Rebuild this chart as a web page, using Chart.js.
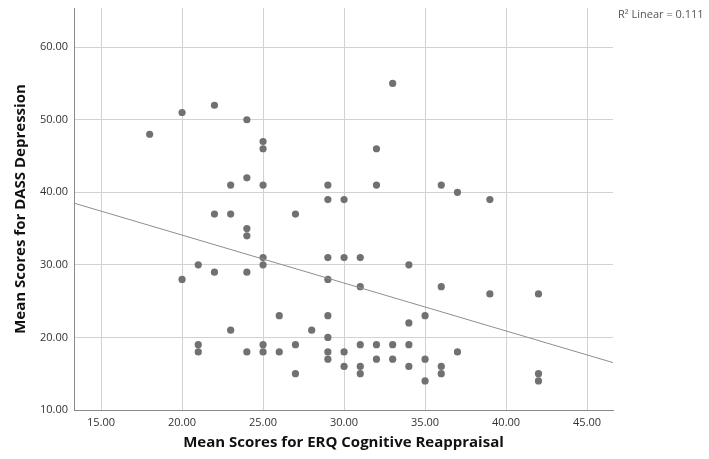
<!DOCTYPE html>
<html>
<head>
<meta charset="utf-8">
<script src="https://cdn.jsdelivr.net/npm/chart.js@4.4.1/dist/chart.umd.min.js"></script>
<style>
  html, body { margin: 0; padding: 0; background: #fff; }
  #wrap { width: 709px; height: 459px; }
</style>
</head>
<body>
<div id="wrap"><canvas id="chart"></canvas></div>
<script>
// ERQ reappraisal (x) vs DASS depression (y), one entry per participant
const erqScores = [18, 20, 22, 24, 25, 25, 23, 24, 25, 29, 29, 30, 22, 23, 27, 24, 24, 33, 32, 32,
    36, 37, 39, 20, 21, 22, 24, 25, 25, 29, 30, 31, 29, 31, 34, 36, 39, 42, 26, 29,
    35, 28, 23, 29, 34, 21, 21, 24, 25, 25, 26, 27, 27, 29, 29, 30, 30, 31, 31, 31,
    32, 32, 33, 33, 34, 34, 35, 35, 36, 36, 37, 42, 42];
const dassScores = [48, 51, 52, 50, 47, 46, 41, 42, 41, 41, 39, 39, 37, 37, 37, 35, 34, 55, 46, 41,
    41, 40, 39, 28, 30, 29, 29, 31, 30, 31, 31, 31, 28, 27, 30, 27, 26, 26, 23, 23,
    23, 21, 21, 20, 22, 19, 18, 18, 19, 18, 18, 19, 15, 18, 17, 18, 16, 19, 16, 15,
    19, 17, 19, 17, 19, 16, 17, 14, 16, 15, 18, 15, 14];
const xTicks = [15, 20, 25, 30, 35, 40, 45];
const yTicks = [10, 20, 30, 40, 50, 60];
const xRange = [13.33, 46.6];
const yRange = [10, 65.4];
const r2Label = 'R\u00b2 Linear = 0.111';

const points = erqScores.map((x, i) => ({ x: x, y: dassScores[i] }));

// least squares fit for the reference line
function linearFit(xs, ys) {
    const n = xs.length;
    const mx = xs.reduce((a, b) => a + b, 0) / n;
    const my = ys.reduce((a, b) => a + b, 0) / n;
    let sxy = 0, sxx = 0;
    for (let i = 0; i < n; i++) {
        sxy += (xs[i] - mx) * (ys[i] - my);
        sxx += (xs[i] - mx) * (xs[i] - mx);
    }
    const slope = sxy / sxx;
    return { slope: slope, intercept: my - slope * mx };
}
const fit = linearFit(erqScores, dassScores);
const fitLine = xRange.map(x => ({ x: x, y: fit.intercept + fit.slope * x }));

const fontFamily = '"Open Sans", "DejaVu Sans", sans-serif';

const r2Plugin = {
    id: 'r2Text',
    afterDraw(chart) {
        const ctx = chart.ctx;
        ctx.save();
        ctx.font = '11px ' + fontFamily;
        ctx.fillStyle = '#555';
        ctx.textBaseline = 'alphabetic';
        ctx.fillText(r2Label, chart.chartArea.right + 5, 18);
        ctx.restore();
    }
};

const ctx = document.getElementById('chart').getContext('2d');
const myChart = new Chart(ctx, {
    type: 'scatter',
    data: {
        datasets: [{
            label: 'Fit',
            type: 'line',
            data: fitLine,
            borderColor: '#8e8e8e',
            borderWidth: 1,
            pointRadius: 0,
            fill: false
        }, {
            label: 'Participants',
            data: points,
            backgroundColor: '#717171',
            borderColor: '#717171',
            borderWidth: 0,
            pointRadius: 3.6
        }]
    },
    options: {
        responsive: true,
        maintainAspectRatio: false,
        animation: false,
        events: [],
        layout: { padding: { top: 8, right: 96, left: 0, bottom: 0 } },
        plugins: {
            legend: { display: false },
            tooltip: { enabled: false }
        },
        scales: {
            x: {
                type: 'linear',
                min: xRange[0],
                max: xRange[1],
                afterBuildTicks: axis => { axis.ticks = xTicks.map(v => ({ value: v })); },
                afterFit: axis => {
                    axis.height = 49;
                    axis.paddingLeft = 0;
                    axis.paddingRight = 0;
                },
                grid: { color: '#d2d2d2', lineWidth: 1, drawTicks: false },
                border: { color: '#8a8a8a', width: 1 },
                ticks: {
                    padding: 6,
                    color: '#333',
                    font: { family: fontFamily, size: 11 },
                    callback: v => v.toFixed(2)
                },
                title: {
                    display: true,
                    text: 'Mean Scores for ERQ Cognitive Reappraisal',
                    color: '#111',
                    font: { family: fontFamily, size: 15, weight: 'bold' },
                    padding: { top: 0, bottom: 7 }
                }
            },
            y: {
                type: 'linear',
                min: yRange[0],
                max: yRange[1],
                afterBuildTicks: axis => { axis.ticks = yTicks.map(v => ({ value: v })); },
                afterFit: axis => {
                    axis.width = 74;
                    axis.paddingTop = 0;
                    axis.paddingBottom = 0;
                },
                grid: { color: '#d2d2d2', lineWidth: 1, drawTicks: false },
                border: { color: '#8a8a8a', width: 1 },
                ticks: {
                    padding: 6,
                    color: '#333',
                    font: { family: fontFamily, size: 11 },
                    callback: v => v.toFixed(2)
                },
                title: {
                    display: true,
                    text: 'Mean Scores for DASS Depression',
                    color: '#111',
                    font: { family: fontFamily, size: 15, weight: 'bold' },
                    padding: { top: 12, bottom: 0 }
                }
            }
        }
    },
    plugins: [r2Plugin]
});
</script>
</body>
</html>
